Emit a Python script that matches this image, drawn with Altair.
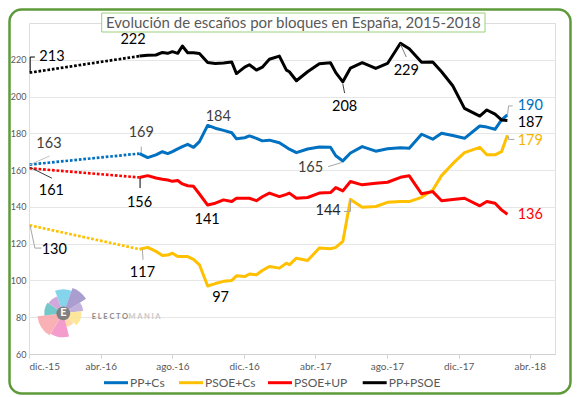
import altair as alt
import pandas as pd

# ---- data ----
series_names = ["PP+Cs", "PSOE+Cs", "PSOE+UP", "PP+PSOE"]
series_colors = ["#0070C0", "#FFC000", "#FF0000", "#000000"]

start_date = "2015-12-02"
start_values = [163, 130, 161, 213]

dates = ["2016-06-06", "2016-06-20", "2016-07-04", "2016-07-15", "2016-07-24",
         "2016-08-01", "2016-08-10", "2016-08-18", "2016-08-27", "2016-09-06",
         "2016-09-16", "2016-09-30", "2016-10-13", "2016-10-27", "2016-11-10",
         "2016-11-18", "2016-12-02", "2016-12-10", "2016-12-22", "2017-01-01",
         "2017-01-13", "2017-01-30", "2017-02-11", "2017-02-16", "2017-02-28",
         "2017-03-19", "2017-04-08", "2017-04-27", "2017-05-06", "2017-05-18",
         "2017-05-31", "2017-06-20", "2017-07-13", "2017-08-02", "2017-08-24",
         "2017-09-08", "2017-09-29", "2017-10-18", "2017-11-02", "2017-11-21",
         "2017-12-11", "2018-01-06", "2018-01-18", "2018-02-01", "2018-02-12",
         "2018-02-22"]

pp_cs = [169, 166.8, 168.3, 170, 169, 170.1, 171.5, 172.8, 174, 172.4,
         175.5, 184.3, 182.8, 181.6, 180.3, 177, 177.6, 178.6, 177.3, 175.9,
         176.3, 174.9, 172.4, 171.4, 169.5, 171.5, 172.6, 172.4, 167.8, 165,
         169.3, 172.8, 170.3, 171.6, 172.2, 171.9, 179.5, 176.8, 180, 178.8,
         177.3, 184, 183.4, 182.2, 187.3, 190]

psoe_cs = [117, 118, 115.8, 113.6, 113.8, 114.8, 113, 113, 113, 111.5,
           108.5, 97, 98.3, 99.5, 100, 102.5, 102.1, 103.5, 103.1, 105.4,
           107.6, 106.7, 109.4, 108.5, 112.1, 110.8, 117.6, 117.2, 118, 121.2,
           144, 139.8, 140.2, 142.5, 142.9, 142.9, 145.2, 149.2, 157, 163.5,
           169.5, 172.4, 168.3, 168.3, 170, 179]

psoe_up = [156, 157, 155.7, 155, 154.6, 153.9, 154.3, 152.5, 151.5, 151.2,
           147, 141, 142, 143.8, 142.9, 144.7, 144.7, 144.7, 143.4, 145.5,
           147.5, 145.6, 146.8, 147.5, 144.7, 145.1, 147.5, 147.8, 150.5, 148.7,
           153.8, 152, 152.9, 153.4, 156.1, 156.9, 147.1, 148.3, 143.3, 144,
           144.7, 140.6, 142.9, 142, 138.4, 136]

pp_psoe = [222, 222.5, 222.6, 224, 223.5, 224.4, 223.5, 227.5, 223.8, 223.8,
           223.4, 218.5, 218, 218.3, 218.8, 212.5, 216, 217.3, 214.4, 216,
           220.3, 222, 214.4, 213.5, 208.6, 213.5, 217.8, 218.4, 213, 208,
           215.5, 218.4, 215.3, 218, 229, 226, 218.6, 218.8, 213.5, 205.9,
           193.6, 189.4, 192.7, 190.4, 187.3, 187]

# data labels (text, anchor date, anchor value, colour)
label_texts = ["213", "222", "229", "208", "187", "190", "179", "136", "184", "165",
               "169", "163", "161", "156", "141", "144", "130", "117", "97"]
label_dates = ["2016-01-09", "2016-05-26", "2017-09-03", "2017-05-21", "2018-04-02",
               "2018-04-02", "2018-04-02", "2018-04-02", "2016-10-18", "2017-03-24",
               "2016-06-09", "2016-01-04", "2016-01-08", "2016-06-06", "2016-09-29",
               "2017-04-23", "2016-01-13", "2016-06-11", "2016-10-22"]
label_values = [221.6, 230.7, 213.9, 194.5, 185.8, 194.9, 175.9, 135.7, 188.7, 161.4,
                180.4, 174.1, 148.7, 142.0, 133.0, 137.5, 116.7, 104.0, 90.4]
label_colors = ["#000000", "#000000", "#000000", "#000000", "#000000", "#0070C0",
                "#F5B400", "#FF0000", "#404040", "#404040", "#404040", "#404040",
                "#000000", "#000000", "#000000", "#262626", "#000000", "#000000",
                "#000000"]

# leader lines of the data labels
lead_d1 = ["2015-12-03", "2015-12-03", "2017-08-24", "2017-05-18", "2018-02-22",
           "2018-02-24", "2018-02-24", "2018-02-24", "2017-04-23", "2016-06-09",
           "2015-12-02", "2015-12-02", "2016-06-07", "2017-05-20", "2017-05-31",
           "2015-12-03", "2015-12-11", "2016-06-11"]
lead_v1 = [213.3, 221.5, 228.5, 206.8, 189.5, 194.9, 178.4, 176.7, 161.9, 172.8,
           162.8, 161.6, 155.6, 137.5, 137.5, 129.7, 117.6, 116.7]
lead_d2 = ["2015-12-03", "2015-12-11", "2017-09-03", "2017-05-21", "2018-02-24",
           "2018-03-03", "2018-02-24", "2018-03-06", "2017-05-16", "2016-06-09",
           "2016-01-05", "2016-01-09", "2016-06-07", "2017-05-31", "2017-05-31",
           "2015-12-11", "2015-12-22", "2016-06-12"]
lead_v2 = [221.5, 221.5, 221.5, 201.9, 194.9, 194.9, 176.7, 176.7, 164.1, 169.3,
           167.7, 155.6, 150.2, 137.5, 143.8, 117.6, 117.6, 111.2]
lead_colors = ["#000000", "#000000", "#7F7F7F", "#404040", "#A6A6A6", "#A6A6A6",
               "#A6A6A6", "#A6A6A6", "#A6A6A6", "#A6A6A6", "#BFBFBF", "#404040",
               "#000000", "#A6A6A6", "#A6A6A6", "#A6A6A6", "#A6A6A6", "#A6A6A6"]

tick_months = [(2015, 12), (2016, 4), (2016, 8), (2016, 12), (2017, 4),
               (2017, 8), (2017, 12), (2018, 4)]
y_ticks = [60, 80, 100, 120, 140, 160, 180, 200, 220]

title_text = "Evolución de escaños por bloques en España, 2015-2018"

# logo wedges (start angle, end angle, radius, colour)
logo_a0 = [-0.35, 0.35, 1.0, 1.45, 2.3, 2.9, 3.7, 4.6, 5.3]
logo_a1 = [0.35, 1.0, 1.45, 2.3, 2.9, 3.7, 4.6, 5.3, 5.93]
logo_r = [24, 27, 20, 18, 14, 24, 26, 19, 18]
logo_c = ["#6FCDE8", "#9B8DC8", "#B7A3D6", "#FDE38A", "#FFD39A", "#F28BC3",
          "#F9A3A8", "#5BBFBF", "#C99BD5"]

# ---- layout constants (pixels inside the plot area) ----
W, H = 526, 331
GRAY = "#595959"
legend_x = [75, 150, 239, 333.7]
legend_y = 359.7
legend_len = 24

# ---- tables ----
solid = pd.DataFrame({
    "date": pd.to_datetime(dates * 4),
    "series": sum([[s] * len(dates) for s in series_names], []),
    "value": pp_cs + psoe_cs + psoe_up + pp_psoe,
})
first_vals = [pp_cs[0], psoe_cs[0], psoe_up[0], pp_psoe[0]]
dotted = pd.DataFrame({
    "date": pd.to_datetime([start_date, dates[0]] * 4),
    "series": sum([[s, s] for s in series_names], []),
    "value": sum([[a, b] for a, b in zip(start_values, first_vals)], []),
})
labels = pd.DataFrame({"date": pd.to_datetime(label_dates), "value": label_values,
                       "text": label_texts, "c": label_colors})
leads = pd.DataFrame({"d1": pd.to_datetime(lead_d1), "v1": lead_v1,
                      "d2": pd.to_datetime(lead_d2), "v2": lead_v2, "c": lead_colors})
logo = pd.DataFrame({"a0": logo_a0, "a1": logo_a1, "r": logo_r, "c": logo_c})
legend_df = pd.DataFrame({
    "series": series_names, "c": series_colors,
    "x0": legend_x, "x1": [v + legend_len for v in legend_x],
    "xt": [v + legend_len + 2 for v in legend_x],
})

month_names = "['ene.','feb.','mar.','abr.','may.','jun.','jul.','ago.','sep.','oct.','nov.','dic.']"
x_axis = alt.Axis(
    values=[alt.DateTime(year=y, month=m, date=1) for y, m in tick_months],
    labelExpr=month_names + "[month(datum.value)] + '-' + timeFormat(datum.value, '%y')",
    grid=False, title=None, tickSize=4, tickColor="#D0D0D0", domainColor="#D0D0D0",
    labelColor=GRAY, labelFont="Lato", labelFontSize=10, labelPadding=3,
)
x_scale = alt.Scale(domain=[alt.DateTime(year=2015, month=12, date=1),
                            alt.DateTime(year=2018, month=5, date=14)])
y_axis = alt.Axis(values=y_ticks, grid=True, gridColor="#E6E6E6", domain=False,
                  ticks=False, title=None, labelColor=GRAY, labelFont="Lato",
                  labelFontSize=9, labelPadding=3)
y_scale = alt.Scale(domain=[60, 240], nice=False, zero=False)
color_scale = alt.Scale(domain=series_names, range=series_colors)

lines = alt.Chart(solid).mark_line(strokeWidth=3, strokeJoin="round").encode(
    x=alt.X("date:T", scale=x_scale, axis=x_axis),
    y=alt.Y("value:Q", scale=y_scale, axis=y_axis),
    color=alt.Color("series:N", scale=color_scale, legend=None),
)
dots = alt.Chart(dotted).mark_line(strokeWidth=2.7, strokeDash=[2.7, 1.8]).encode(
    x="date:T", y="value:Q",
    color=alt.Color("series:N", scale=color_scale, legend=None),
)
leaders = alt.Chart(leads).mark_rule(strokeWidth=1).encode(
    x="d1:T", x2="d2", y="v1:Q", y2="v2", stroke=alt.Stroke("c:N", scale=None),
)
texts = alt.Chart(labels).mark_text(font="Lato", fontSize=14.5, baseline="middle").encode(
    x="date:T", y="value:Q", text="text:N", fill=alt.Fill("c:N", scale=None),
)

# legend drawn as marks below the axis
leg_sym = alt.Chart(legend_df).mark_rule(strokeWidth=3).encode(
    x=alt.X("x0:Q", scale=None), x2="x1", y=alt.value(legend_y),
    stroke=alt.Stroke("c:N", scale=None),
)
leg_txt = alt.Chart(legend_df).mark_text(font="Lato", fontSize=12, color=GRAY,
                                         align="left", baseline="middle").encode(
    x=alt.X("xt:Q", scale=None), y=alt.value(legend_y), text="series:N",
)

one = alt.Data(values=[{"k": 1}])
LX, LY = 34.3, 290.3
wedges = alt.Chart(logo).mark_arc(opacity=0.85).encode(
    x=alt.value(LX), y=alt.value(LY),
    theta=alt.Theta("a0:Q", scale=None), theta2="a1",
    radius=alt.Radius("r:Q", scale=None), fill=alt.Fill("c:N", scale=None),
)
logo_circle = alt.Chart(one).mark_circle(size=190, color="#808080", opacity=1).encode(
    x=alt.value(LX), y=alt.value(LY))
logo_e = alt.Chart(one).mark_text(text="E", font="Lato", fontWeight="bold", fontSize=11,
                                  color="white", baseline="middle").encode(
    x=alt.value(LX), y=alt.value(LY))
logo_t1 = alt.Chart(one).mark_text(text="E L E C T O", font="Lato", fontWeight="bold",
                                   fontSize=7.5, color="#8C8C8C", align="left",
                                   baseline="middle").encode(
    x=alt.value(62.7), y=alt.value(293.7))
logo_t2 = alt.Chart(one).mark_text(text="M A N I A", font="Lato", fontWeight="bold",
                                   fontSize=7.5, color="#C8C8C8", align="left",
                                   baseline="middle").encode(
    x=alt.value(99.5), y=alt.value(293.7))

title_box = alt.Chart(one).mark_rect(fill="white", stroke="#9BD07A", strokeWidth=1).encode(
    x=alt.value(72.7), x2=alt.value(456), y=alt.value(-10), y2=alt.value(9))
title = alt.Chart(one).mark_text(text=title_text, font="Lato", fontSize=15, color=GRAY,
                                 baseline="middle").encode(
    x=alt.value(264.4), y=alt.value(-0.5))
border = alt.Chart(one).mark_rect(fill=None, stroke="#5E9A3A", strokeWidth=2.5,
                                  cornerRadius=12).encode(
    x=alt.value(-19.5), x2=alt.value(541.5), y=alt.value(-13.5), y2=alt.value(370.5))

chart = alt.layer(
    lines, dots, leaders, texts, leg_sym, leg_txt, wedges, logo_circle, logo_e,
    logo_t1, logo_t2, title_box, title, border,
).properties(
    width=W, height=H,
    autosize=alt.AutoSizeParams(type="none"),
    padding={"left": 21, "top": 15, "right": 17, "bottom": 41},
).configure_view(stroke=None).configure(background="white")

chart.save("out.html", embed_options={"renderer": "svg", "actions": False})
